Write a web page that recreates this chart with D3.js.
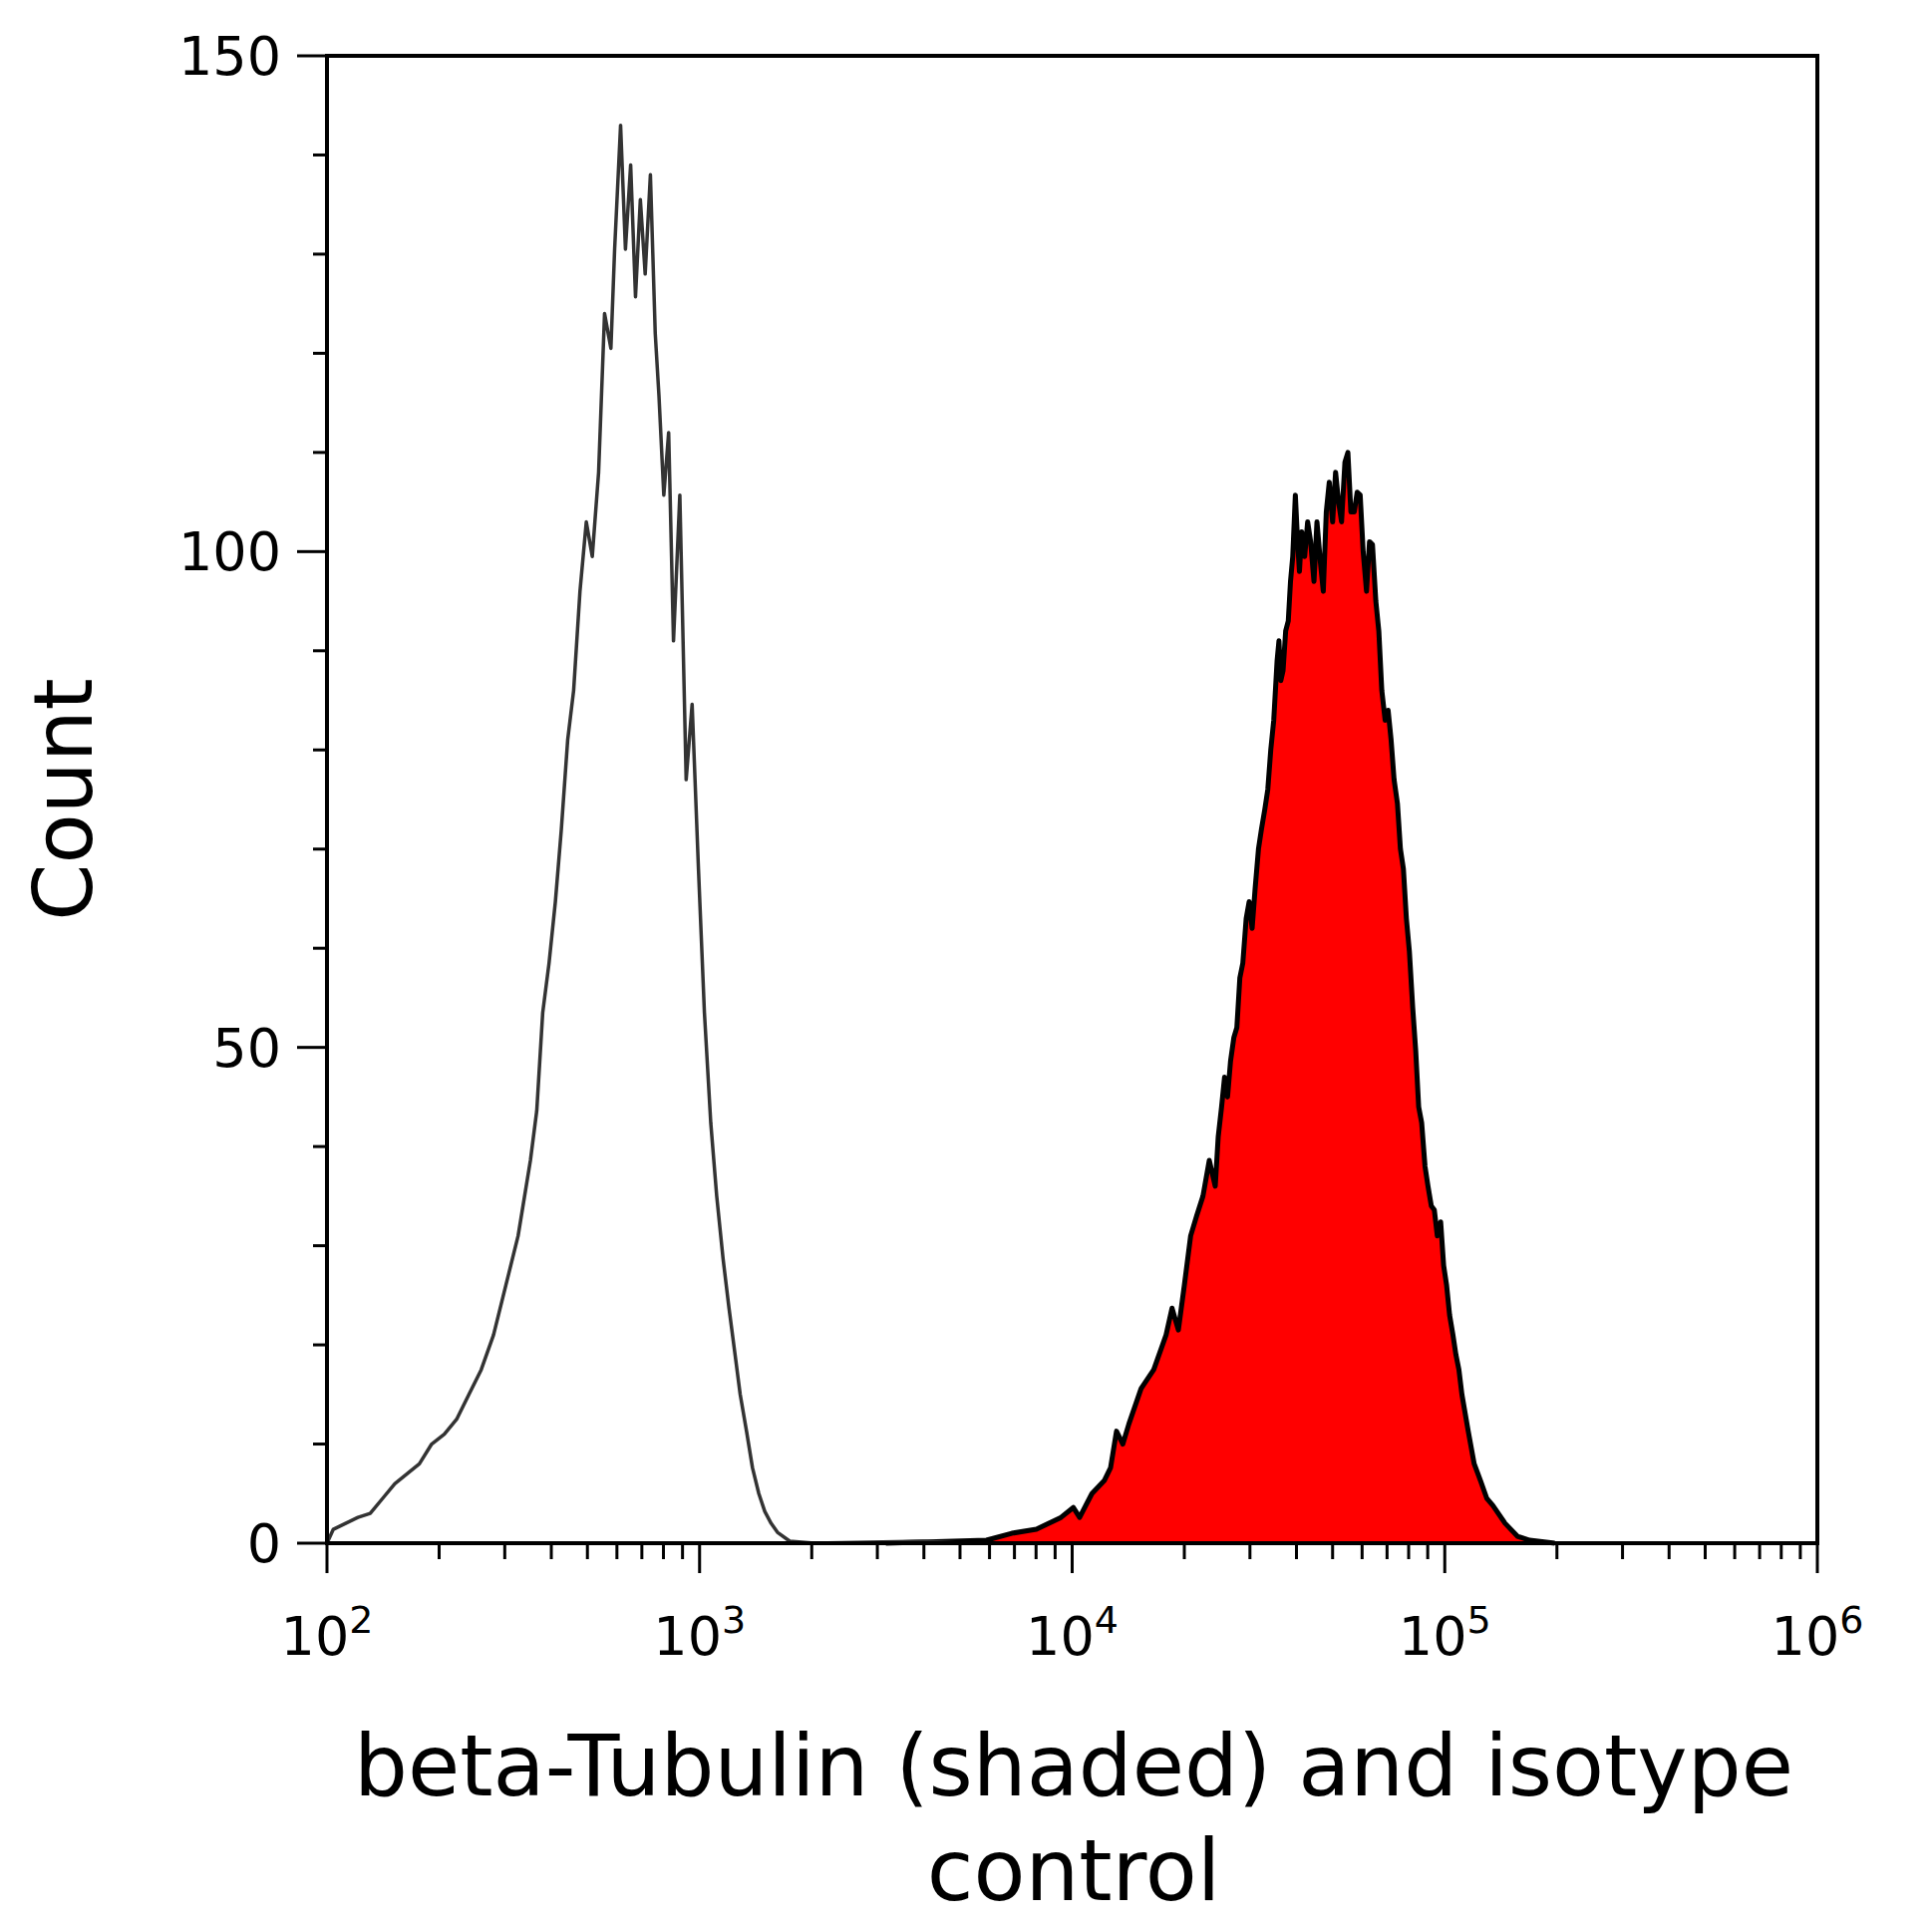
<!DOCTYPE html>
<html><head><meta charset="utf-8">
<script src="https://cdn.jsdelivr.net/npm/d3@7"></script>
<style>body{margin:0;background:#fff}</style>
</head><body><svg width="1938" height="1932"></svg>
<script>
// isotype control (outline), x = log10 intensity
const isoX = [2.000,2.017,2.050,2.083,2.116,2.149,2.182,2.215,2.248,2.281,2.315,2.348,2.381,2.414,2.447,2.480,2.513,2.546,2.563,2.579,2.596,2.613,2.629,2.646,2.662,2.679,2.696,2.712,2.729,2.745,2.762,2.772,2.788,2.801,2.815,2.828,2.841,2.854,2.868,2.881,2.891,2.904,2.917,2.930,2.947,2.964,2.980,2.997,3.013,3.030,3.046,3.063,3.079,3.096,3.109,3.126,3.142,3.159,3.175,3.192,3.209,3.242,3.308,3.600,3.700,4.000,4.300];
const isoY = [0,1.4,2,2.6,3,4.5,6,7,8,10,11,12.5,15,17.5,21,26,31,38.6,43.6,53.5,58.5,64.7,72,81,86,96,103,99.5,108,124,120.5,130.5,143,130.5,139,125.7,135.5,128,138,122,115.7,105.7,112,91,105.7,77,84.6,68,53.5,42.4,35,28.7,23.7,18.8,15,11.3,7.6,5,3.2,2,1.1,0.2,0,0.2,0,0,0];

// beta-Tubulin (shaded)
const tubX = [3.500,3.770,3.838,3.904,3.970,4.003,4.020,4.053,4.086,4.103,4.119,4.136,4.152,4.185,4.219,4.252,4.268,4.285,4.301,4.318,4.334,4.351,4.368,
  4.384,4.392,4.401,4.409,4.417,4.425,4.434,4.442,4.450,4.458,4.467,4.475,4.483,4.491,4.500,4.508,4.517,4.525,4.533,4.541,4.550,4.555,4.560,4.566,4.573,4.580,4.586,4.592,4.599,4.605,4.610,4.616,4.624,4.632,4.640,4.649,4.657,4.666,4.674,4.682,4.690,4.699,4.707,4.715,4.723,4.732,4.740,4.748,4.757,4.765,4.773,4.781,4.790,4.798,4.806,4.815,4.823,4.831,4.840,4.848,4.856,4.864,4.873,4.881,4.889,4.897,4.905,4.914,4.922,4.930,4.938,4.947,4.955,4.964,4.972,4.980,4.989,4.997,5.005,5.013,5.022,5.030,5.038,5.046,
  5.063,5.079,5.096,5.113,5.129,5.162,5.195,5.228,5.295,5.328];
const tubY = [0,0.3,1,1.4,2.6,3.6,2.6,5,6.3,7.6,11.3,10,12,15.6,17.5,21,23.7,21.5,26,31,33,35,
  38.6,36,41,44,47,45,48.6,51,52,57,58.5,63,64.7,62,66,70,72,74,76,80,83,89,91,87,88,92,93,97,99.5,105.7,101,98,102,99.5,103,101,97,103,99,96,104,107,103,108,105,103,109,110,104,104,106,105.7,100,96,101,100.7,95,92,86,83,84,81,77,74.6,70,68,63,59.7,54,49.7,44,42.4,38,36,34,33.6,31,32.4,28,26,23,21,19,17.5,
  15,11.3,8,6.3,4.5,3.8,2,0.7,0.3,0];
// (first 22 tubY values pair with first 22 tubX values)

const yTicks = [0,50,100,150];
const xExps = [2,3,4,5,6];

const svg = d3.select("svg");
const L = 328, R = 1823, T = 56, B = 1548;
const x = d3.scaleLinear().domain([2, 6]).range([L, R]);
const y = d3.scaleLinear().domain([0, 150]).range([B, T]);
const font = "DejaVu Sans, sans-serif";

const n = Math.min(tubX.length, tubY.length);
const tub = d3.range(n).map(i => [tubX[i], tubY[i]]);
const iso = d3.range(Math.min(isoX.length, isoY.length)).map(i => [isoX[i], isoY[i]]);

// shaded histogram
const area = d3.area().x(d => x(d[0])).y0(B).y1(d => y(d[1]));
svg.append("path").attr("d", area(tub)).attr("fill", "#ff0000");
const line = d3.line().x(d => x(d[0])).y(d => y(d[1]));
svg.append("path").attr("d", line(tub)).attr("fill", "none")
    .attr("stroke", "#000").attr("stroke-width", 5).attr("stroke-linejoin", "round");
svg.append("path").attr("d", line(iso)).attr("fill", "none")
    .attr("stroke", "#333").attr("stroke-width", 3.5).attr("stroke-linejoin", "round");

// frame
svg.append("rect").attr("x", L).attr("y", T).attr("width", R - L).attr("height", B - T)
    .attr("fill", "none").attr("stroke", "#000").attr("stroke-width", 4);

// y ticks
d3.range(0, 151, 10).forEach(v => {
    const major = v % 50 === 0;
    svg.append("line").attr("x1", L).attr("x2", L - (major ? 30 : 14))
        .attr("y1", y(v)).attr("y2", y(v)).attr("stroke", "#000").attr("stroke-width", 3);
});
yTicks.forEach(v => {
    svg.append("text").attr("x", L - 46).attr("y", y(v) + 19).attr("text-anchor", "end")
        .attr("font-family", font).attr("font-size", 54).text(v);
});

// x ticks
xExps.forEach(e => {
    svg.append("line").attr("x1", x(e)).attr("x2", x(e)).attr("y1", B).attr("y2", B + 30)
        .attr("stroke", "#000").attr("stroke-width", 3);
    if (e < 6) d3.range(2, 10).forEach(m => {
        const p = x(e + Math.log10(m));
        svg.append("line").attr("x1", p).attr("x2", p).attr("y1", B).attr("y2", B + 16)
            .attr("stroke", "#000").attr("stroke-width", 3);
    });
    const t = svg.append("text").attr("x", x(e)).attr("y", 1660).attr("text-anchor", "middle")
        .attr("font-family", font).attr("font-size", 54);
    t.append("tspan").text("10");
    t.append("tspan").attr("dy", -22).attr("font-size", 38).text(e);
});

// axis titles
svg.append("text").attr("transform", "translate(92,802) rotate(-90)")
    .attr("text-anchor", "middle").attr("font-family", font).attr("font-size", 82).text("Count");
svg.append("text").attr("x", 1077).attr("y", 1801).attr("text-anchor", "middle")
    .attr("font-family", font).attr("font-size", 85).text("beta-Tubulin (shaded) and isotype");
svg.append("text").attr("x", 1077).attr("y", 1906).attr("text-anchor", "middle")
    .attr("font-family", font).attr("font-size", 85).text("control");
</script></body></html>
